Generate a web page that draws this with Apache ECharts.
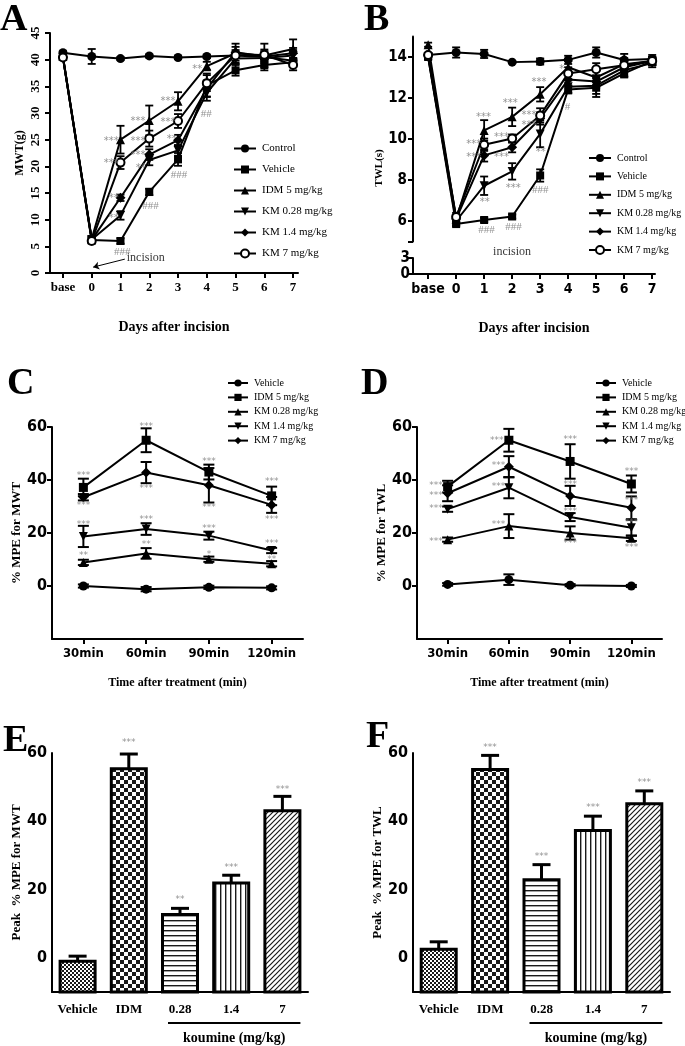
<!DOCTYPE html>
<html><head><meta charset="utf-8">
<script src="https://cdn.jsdelivr.net/npm/echarts@6/dist/echarts.min.js"></script>
<style>html,body{margin:0;padding:0;background:#fff}#c{width:685px;height:1046px}</style>
</head><body><div id="c"></div>
<script>
// ---------- DATA ----------
const daysLabels = ['base','0','1','2','3','4','5','6','7'];
const dayX = [-1,0,1,2,3,4,5,6,7];
const groupsAB = ['Control','Vehicle','IDM 5 mg/kg','KM 0.28 mg/kg','KM 1.4 mg/kg','KM 7 mg/kg'];
// Panel A: MWT (g)
const mwtControl = [41.3, 40.6, 40.2, 40.7, 40.4, 40.6, 40.8, 40.5, 39.8];
const mwtVehicle = [40.5, 6.2, 6.0, 15.2, 21.3, 35.2, 38.0, 39.0, 39.5];
const mwtIDM     = [40.6, 6.4, 25.0, 28.6, 32.2, 38.8, 41.2, 40.8, 42.0];
const mwtKM028   = [40.4, 6.3, 10.8, 21.2, 23.0, 33.8, 40.2, 40.3, 40.8];
const mwtKM14    = [40.5, 6.2, 14.1, 22.2, 24.9, 34.6, 41.4, 40.6, 41.2];
const mwtKM7     = [40.4, 6.0, 20.7, 25.2, 28.5, 35.6, 40.8, 40.9, 39.0];
const mwtControlErr = [0.3, 1.4, 0.3, 0.3, 0.3, 0.3, 0.5, 0.5, 0.5];
const mwtVehicleErr = [0.3, 0.4, 0.5, 0.6, 1.2, 2.2, 1.0, 1.0, 0.8];
const mwtIDMErr     = [0.3, 0.5, 2.6, 2.8, 1.7, 0.8, 1.8, 2.2, 1.8];
const mwtKM028Err   = [0.3, 0.5, 0.8, 1.0, 1.0, 1.5, 1.0, 1.0, 1.0];
const mwtKM14Err    = [0.3, 0.5, 0.6, 1.0, 1.0, 1.5, 1.0, 1.0, 1.0];
const mwtKM7Err     = [0.3, 0.5, 1.2, 1.5, 1.3, 1.5, 1.0, 1.0, 1.0];
// Panel B: TWL (s)
const twlControl = [14.1, 14.22, 14.15, 13.75, 13.78, 13.86, 14.22, 13.85, 13.9];
const twlVehicle = [14.0, 5.85, 6.05, 6.22, 8.22, 12.42, 12.5, 13.2, 13.8];
const twlIDM     = [14.6, 6.1, 10.42, 11.08, 12.18, 13.5, 13.0, 13.65, 13.8];
const twlKM028   = [14.0, 6.0, 7.72, 8.42, 10.25, 12.55, 12.6, 13.35, 13.7];
const twlKM14    = [14.1, 6.1, 9.2, 9.6, 11.0, 12.9, 12.8, 13.5, 13.8];
const twlKM7     = [14.1, 6.2, 9.72, 10.02, 11.15, 13.2, 13.4, 13.6, 13.8];
const twlControlErr = [0.1, 0.25, 0.2, 0.05, 0.15, 0.2, 0.25, 0.3, 0.2];
const twlVehicleErr = [0.1, 0.1, 0.1, 0.1, 0.3, 0.2, 0.45, 0.2, 0.15];
const twlIDMErr     = [0.1, 0.2, 0.5, 0.45, 0.35, 0.3, 0.4, 0.3, 0.2];
const twlKM028Err   = [0.1, 0.2, 0.45, 0.4, 0.65, 0.3, 0.4, 0.3, 0.2];
const twlKM14Err    = [0.1, 0.2, 0.3, 0.25, 0.3, 0.3, 0.3, 0.2, 0.2];
const twlKM7Err     = [0.1, 0.2, 0.3, 0.2, 0.35, 0.3, 0.3, 0.2, 0.2];
// Panels C, D: %MPE over time
const timeLabels = ['30min','60min','90min','120min'];
const timeX = [0,1,2,3];
const groupsCD = ['Vehicle','IDM 5 mg/kg','KM 0.28 mg/kg','KM 1.4 mg/kg','KM 7 mg/kg'];
const mpeMwtVehicle = [0, -1.2, -0.5, -0.7];
const mpeMwtIDM     = [37.2, 55.0, 43.0, 34.0];
const mpeMwtKM028   = [8.9, 12.3, 10.1, 8.4];
const mpeMwtKM14    = [18.7, 21.5, 19.0, 13.4];
const mpeMwtKM7     = [33.5, 42.8, 38.0, 30.6];
const mpeMwtVehicleErr = [0.6, 0.8, 0.6, 0.6];
const mpeMwtIDMErr     = [3.3, 4.5, 2.8, 3.5];
const mpeMwtKM028Err   = [1.0, 2.0, 1.0, 1.0];
const mpeMwtKM14Err    = [4.0, 2.2, 1.5, 1.0];
const mpeMwtKM7Err     = [1.2, 4.0, 6.5, 3.0];
const mpeTwlVehicle = [0.6, 2.4, 0.3, 0];
const mpeTwlIDM     = [37.5, 55.0, 47.0, 38.5];
const mpeTwlKM028   = [17.5, 22.6, 20.0, 18.0];
const mpeTwlKM14    = [29.0, 37.1, 26.0, 22.0];
const mpeTwlKM7     = [35.0, 45.0, 34.0, 29.5];
const mpeTwlVehicleErr = [0.5, 2.0, 0.4, 0.4];
const mpeTwlIDMErr     = [2.2, 4.3, 6.5, 3.2];
const mpeTwlKM028Err   = [0.8, 4.5, 2.5, 1.0];
const mpeTwlKM14Err    = [1.0, 4.0, 1.5, 3.0];
const mpeTwlKM7Err     = [3.0, 4.0, 3.8, 4.3];
// Panels E, F: peak %MPE
const peakLabels = ['Vehicle','IDM','0.28','1.4','7'];
const peakMwt    = [-1.0, 55.4, 12.7, 21.9, 43.1];
const peakMwtErr = [1.5, 4.3, 1.8, 2.3, 4.2];
const peakTwl    = [2.5, 55.2, 22.9, 37.3, 45.1];
const peakTwlErr = [2.2, 4.1, 4.4, 4.2, 3.8];
// significance marks [x, y, text]
const annA = [[0.68,24.7,'***'],[0.68,20.6,'***'],[0.77,14.0,'**'],[0.77,10.3,'**'],[1.06,4.0,'###'],
  [1.61,28.4,'***'],[1.61,24.7,'***'],[1.61,22.0,'***'],[1.7,19.7,'**'],[2.04,12.5,'###'],
  [2.65,32.2,'***'],[2.65,28.3,'***'],[2.78,25.0,'**'],[3.03,18.4,'###'],[3.67,38.1,'**'],[3.98,29.7,'##']];
const annB = [[0.98,11.07,'***'],[0.63,9.74,'***'],[0.63,9.12,'***'],[1.02,6.93,'**'],[1.08,5.55,'###'],
  [1.93,11.72,'***'],[1.62,10.07,'***'],[1.62,9.12,'***'],[2.04,7.58,'***'],[2.05,5.7,'###'],
  [2.96,12.78,'***'],[2.6,11.15,'***'],[2.6,10.67,'***'],[3.02,9.37,'**'],[3.0,7.5,'###'],
  [3.77,13.4,'*'],[3.98,11.55,'#']];
const annC = [[0,41.8,'***'],[0,30.5,'***'],[0,23.2,'***'],[0,11.3,'**'],
  [1,60.2,'***'],[1,36.8,'***'],[1,25.1,'***'],[1,15.7,'**'],
  [2,46.8,'***'],[2,29.6,'***'],[2,21.6,'***'],[2,12.0,'*'],
  [3,39.3,'***'],[3,25.1,'***'],[3,16.1,'***'],[3,10.0,'**']];
const annD = [[-0.19,38.0,'***'],[-0.19,34.1,'***'],[-0.19,29.0,'***'],[-0.19,16.9,'***'],
  [0.8,55.0,'***'],[0.83,45.5,'***'],[0.83,37.6,'***'],[0.83,23.3,'***'],
  [2,55.2,'***'],[2,38.4,'***'],[2,28.2,'***'],[2,16.0,'***'],
  [3,43.0,'***'],[3,32.1,'***'],[3,23.8,'***'],[3,14.6,'***']];
const annE = [[1,63.0,'***'],[2,17.0,'**'],[3,26.3,'***'],[4,49.3,'***']];
const annF = [[1,61.6,'***'],[2,29.5,'***'],[3,43.9,'***'],[4,51.3,'***']];

// ---------- STYLE ----------
const SERIF = "'Liberation Serif','Times New Roman',serif";
const NARROW = "'Liberation Sans Narrow','DejaVu Sans Condensed','Liberation Sans',sans-serif";
const LS = {color:'#000', width:2};
const DOWN = 'path://M0,0L10,0L5,9Z';
const symAB = ['circle','rect','triangle',DOWN,'diamond','emptyCircle'];
const symCD = ['circle','rect','triangle',DOWN,'diamond'];
const PEAK_MIN = -10, PEAK_MAX = 60;

const chart = echarts.init(document.getElementById('c'), null, {renderer:'canvas', width:685, height:1046});

function xy(xs, ys){ return xs.map((x,i)=>[x, ys[i]]); }
function xye(xs, ys, es){ return xs.map((x,i)=>[x, ys[i], es[i]]); }

function lineS(id, name, ai, data, sym, size){
  return {type:'line', name:id+':'+name, xAxisIndex:ai, yAxisIndex:ai, data,
    symbol:sym, symbolSize:size, showSymbol:true, z:4, silent:true, animation:false,
    lineStyle:{color:'#000', width:2},
    itemStyle: sym==='emptyCircle' ? {color:'#000', borderColor:'#000', borderWidth:2.5} : {color:'#000'},
    emphasis:{disabled:true}};
}
function errS(ai, data, capW, lw, upOnly){
  return {type:'custom', xAxisIndex:ai, yAxisIndex:ai, data, z:3, silent:true, clip:false, animation:false,
    renderItem(params, api){
      const x=api.value(0), y=api.value(1), e=api.value(2);
      const t=api.coord([x,y+e]), b=api.coord(upOnly?[x,y]:[x,y-e]);
      const st={stroke:'#000', lineWidth:lw};
      const ch=[{type:'line',shape:{x1:t[0],y1:t[1],x2:b[0],y2:b[1]},style:st},
        {type:'line',shape:{x1:t[0]-capW/2,y1:t[1],x2:t[0]+capW/2,y2:t[1]},style:st}];
      if(!upOnly) ch.push({type:'line',shape:{x1:b[0]-capW/2,y1:b[1],x2:b[0]+capW/2,y2:b[1]},style:st});
      return {type:'group', children:ch};
    }};
}
function annS(ai, arr, fs){
  return {type:'scatter', xAxisIndex:ai, yAxisIndex:ai, symbolSize:1, silent:true, clip:false, z:6, animation:false,
    itemStyle:{color:'rgba(0,0,0,0)'},
    data: arr.map(a=>({value:[a[0],a[1]], label:{formatter:a[2], fontFamily: a[2].indexOf('#')>=0 ? SERIF : 'DejaVu Sans', fontSize: a[2].indexOf('#')>=0 ? 11 : (fs||10)}})),
    label:{show:true, position:'inside', color:'#777'}};
}
function axisCommon(extra){
  return Object.assign({axisLine:{show:true, onZero:false, lineStyle:LS}, splitLine:{show:false}}, extra);
}

// fill patterns for the bars
function makePattern(kind){
  const s = (kind==='checkBig') ? 8 : (kind==='checkSmall' ? 4 : 5);
  const c = document.createElement('canvas'); c.width = s; c.height = s;
  const g = c.getContext('2d');
  g.fillStyle = '#fff'; g.fillRect(0,0,s,s);
  g.fillStyle = '#1a1a1a'; g.strokeStyle = '#1a1a1a';
  if (kind==='checkSmall'){ g.fillRect(0,0,2,2); g.fillRect(2,2,2,2); }
  else if (kind==='checkBig'){ g.fillRect(0,0,4,4); g.fillRect(4,4,4,4); }
  else if (kind==='hor'){ g.fillRect(0,0,5,1.4); }
  else if (kind==='ver'){ g.fillRect(0,0,1.4,5); }
  else if (kind==='diag'){
    g.lineWidth = 1.2;
    g.beginPath(); g.moveTo(-1,6); g.lineTo(6,-1); g.moveTo(-1,1); g.lineTo(1,-1); g.moveTo(4,6); g.lineTo(6,4); g.stroke();
  }
  return c;
}
const barPatterns = ['checkSmall','checkBig','hor','ver','diag'].map(makePattern);

function barS(ai, vals){
  return {type:'custom', xAxisIndex:ai, yAxisIndex:ai, z:2, silent:true, animation:false, clip:false,
    data: vals.map((v,i)=>[i, v]),
    renderItem(params, api){
      const i = api.value(0), v = api.value(1);
      const top = api.coord([i, v]), base = api.coord([i, PEAK_MIN]);
      const w = 35;
      return {type:'rect', shape:{x:top[0]-w/2, y:top[1], width:w, height:base[1]-top[1]},
        style:{fill:{image:barPatterns[params.dataIndex], repeat:'repeat'}, stroke:'#000', lineWidth:3}};
    }};
}

const grids = [
  {left:50, top:33, width:248, height:240},
  {left:413, top:36.5, width:242, height:205},
  {left:413, top:258, width:242, height:16},
  {left:52, top:427, width:251, height:212},
  {left:417, top:427, width:245, height:212},
  {left:52, top:753, width:256, height:239},
  {left:413, top:753, width:257, height:239}
].map(g=>Object.assign({containLabel:false, outerBoundsMode:'none'}, g));

const tickS = {length:5, lineStyle:LS};
const nameSerif = (fs)=>({fontFamily:SERIF, fontWeight:'bold', fontSize:fs, color:'#000'});
const dayFmt = v => daysLabels[dayX.indexOf(v)];
const timeFmt = v => timeLabels[timeX.indexOf(v)];

const xAxes = [
  axisCommon({gridIndex:0, type:'value', min:-1.45, max:7.17,
    axisTick:Object.assign({customValues:dayX}, tickS),
    axisLabel:{customValues:dayX, formatter:dayFmt, fontFamily:SERIF, fontWeight:'bold', fontSize:13, color:'#000', margin:8},
    name:'Days after incision', nameLocation:'middle', nameGap:47, nameTextStyle:nameSerif(14)}),
  axisCommon({gridIndex:1, type:'value', min:-1.54, max:7.1, show:false}),
  axisCommon({gridIndex:2, type:'value', min:-1.54, max:7.1,
    axisTick:Object.assign({customValues:dayX}, tickS),
    axisLabel:{customValues:dayX, formatter:dayFmt, fontFamily:NARROW, fontWeight:'bold', fontSize:14, color:'#000', margin:8},
    name:'Days after incision', nameLocation:'middle', nameGap:47, nameTextStyle:nameSerif(14)}),
  axisCommon({gridIndex:3, type:'value', min:-0.5, max:3.5,
    axisTick:Object.assign({customValues:timeX}, tickS),
    axisLabel:{customValues:timeX, formatter:timeFmt, fontFamily:NARROW, fontWeight:'bold', fontSize:13, color:'#000', margin:8},
    name:'Time after treatment (min)', nameLocation:'middle', nameGap:38, nameTextStyle:nameSerif(12)}),
  axisCommon({gridIndex:4, type:'value', min:-0.5, max:3.5,
    axisTick:Object.assign({customValues:timeX}, tickS),
    axisLabel:{customValues:timeX, formatter:timeFmt, fontFamily:NARROW, fontWeight:'bold', fontSize:13, color:'#000', margin:8},
    name:'Time after treatment (min)', nameLocation:'middle', nameGap:38, nameTextStyle:nameSerif(12)}),
  axisCommon({gridIndex:5, type:'category', data:peakLabels,
    axisTick:Object.assign({alignWithLabel:true}, tickS),
    axisLabel:{interval:0, fontFamily:SERIF, fontWeight:'bold', fontSize:13, color:'#000', margin:11}}),
  axisCommon({gridIndex:6, type:'category', data:peakLabels,
    axisTick:Object.assign({alignWithLabel:true}, tickS),
    axisLabel:{interval:0, fontFamily:SERIF, fontWeight:'bold', fontSize:13, color:'#000', margin:11}})
];
const mpeTicks = [0,20,40,60];
const yAxes = [
  axisCommon({gridIndex:0, type:'value', min:0, max:45, interval:5, axisTick:tickS,
    axisLabel:{rotate:90, fontFamily:SERIF, fontWeight:'bold', fontSize:13, color:'#000', margin:8},
    name:'MWT(g)', nameLocation:'middle', nameGap:24, nameTextStyle:nameSerif(12)}),
  axisCommon({gridIndex:1, type:'value', min:5, max:15,
    axisTick:Object.assign({customValues:[5,6,8,10,12,14]}, tickS),
    axisLabel:{customValues:[6,8,10,12,14], fontFamily:NARROW, fontWeight:'bold', fontSize:15, color:'#000', margin:6},
    name:'TWL(s)', nameLocation:'middle', nameGap:23, nameTextStyle:Object.assign(nameSerif(11), {padding:[0,58,0,0]})}),
  axisCommon({gridIndex:2, type:'value', min:0, max:3,
    axisTick:Object.assign({customValues:[0,3]}, tickS),
    axisLabel:{customValues:[0,3], fontFamily:NARROW, fontWeight:'bold', fontSize:15, color:'#000', margin:3}}),
  axisCommon({gridIndex:3, type:'value', min:-20, max:60,
    axisTick:Object.assign({customValues:mpeTicks}, tickS),
    axisLabel:{customValues:mpeTicks, fontFamily:NARROW, fontWeight:'bold', fontSize:16, color:'#000', margin:5},
    name:'% MPE for MWT', nameLocation:'middle', nameGap:28, nameTextStyle:nameSerif(13)}),
  axisCommon({gridIndex:4, type:'value', min:-20, max:60,
    axisTick:Object.assign({customValues:mpeTicks}, tickS),
    axisLabel:{customValues:mpeTicks, fontFamily:NARROW, fontWeight:'bold', fontSize:16, color:'#000', margin:5},
    name:'% MPE for TWL', nameLocation:'middle', nameGap:28, nameTextStyle:nameSerif(13)}),
  axisCommon({gridIndex:5, type:'value', min:PEAK_MIN, max:PEAK_MAX,
    axisTick:Object.assign({customValues:mpeTicks}, tickS),
    axisLabel:{customValues:mpeTicks, fontFamily:NARROW, fontWeight:'bold', fontSize:16, color:'#000', margin:5},
    name:'Peak  % MPE for MWT', nameLocation:'middle', nameGap:28, nameTextStyle:nameSerif(13)}),
  axisCommon({gridIndex:6, type:'value', min:PEAK_MIN, max:PEAK_MAX,
    axisTick:Object.assign({customValues:mpeTicks}, tickS),
    axisLabel:{customValues:mpeTicks, fontFamily:NARROW, fontWeight:'bold', fontSize:16, color:'#000', margin:5},
    name:'Peak  % MPE for TWL', nameLocation:'middle', nameGap:26, nameTextStyle:nameSerif(13)})
];

const series = [];
// Panel A
const aMeans = [mwtControl, mwtVehicle, mwtIDM, mwtKM028, mwtKM14, mwtKM7];
const aErrs = [mwtControlErr, mwtVehicleErr, mwtIDMErr, mwtKM028Err, mwtKM14Err, mwtKM7Err];
const symSizeAB = [9,8,9,9,10,8];
groupsAB.forEach((g,i)=>{
  series.push(errS(0, xye(dayX, aMeans[i], aErrs[i]), 8, 1.8, false));
  series.push(lineS('A', g, 0, xy(dayX, aMeans[i]), symAB[i], symSizeAB[i]));
});
series.push(annS(0, annA));
series.push({type:'scatter', xAxisIndex:0, yAxisIndex:0, symbolSize:1, clip:false, silent:true, itemStyle:{color:'rgba(0,0,0,0)'},
  data:[{value:[1.2,2.9], label:{show:true, position:'right', distance:0, formatter:'incision', fontFamily:SERIF, fontSize:12, color:'#000'}}],
  markLine:{silent:true, symbol:['none','arrow'], symbolSize:6, label:{show:false}, lineStyle:{color:'#000', width:1, type:'solid'},
    data:[[{coord:[1.15,2.6]},{coord:[0.05,1.1]}]]}});
// Panel B
const bMeans = [twlControl, twlVehicle, twlIDM, twlKM028, twlKM14, twlKM7];
const bErrs = [twlControlErr, twlVehicleErr, twlIDMErr, twlKM028Err, twlKM14Err, twlKM7Err];
groupsAB.forEach((g,i)=>{
  series.push(errS(1, xye(dayX, bMeans[i], bErrs[i]), 8, 1.8, false));
  series.push(lineS('B', g, 1, xy(dayX, bMeans[i]), symAB[i], symSizeAB[i]));
});
series.push(annS(1, annB));
series.push({type:'scatter', xAxisIndex:2, yAxisIndex:2, symbolSize:1, clip:false, silent:true, itemStyle:{color:'rgba(0,0,0,0)'},
  data:[{value:[1.3,4.1], label:{show:true, position:'right', distance:0, formatter:'incision', fontFamily:SERIF, fontSize:12, color:'#000'}}],
  markLine:{silent:true, symbol:['none','arrow'], symbolSize:6, label:{show:false}, lineStyle:{color:'#000', width:1, type:'solid'},
    data:[[{coord:[1.23,3.56]},{coord:[-0.05,0.75]}]]}});
// Panels C, D
const cMeans = [mpeMwtVehicle, mpeMwtIDM, mpeMwtKM028, mpeMwtKM14, mpeMwtKM7];
const cErrs = [mpeMwtVehicleErr, mpeMwtIDMErr, mpeMwtKM028Err, mpeMwtKM14Err, mpeMwtKM7Err];
const dMeans = [mpeTwlVehicle, mpeTwlIDM, mpeTwlKM028, mpeTwlKM14, mpeTwlKM7];
const dErrs = [mpeTwlVehicleErr, mpeTwlIDMErr, mpeTwlKM028Err, mpeTwlKM14Err, mpeTwlKM7Err];
const symSizeCD = [9,9,9,9,10];
groupsCD.forEach((g,i)=>{
  series.push(errS(3, xye(timeX, cMeans[i], cErrs[i]), 11, 2, false));
  series.push(lineS('C', g, 3, xy(timeX, cMeans[i]), symCD[i], symSizeCD[i]));
  series.push(errS(4, xye(timeX, dMeans[i], dErrs[i]), 11, 2, false));
  series.push(lineS('D', g, 4, xy(timeX, dMeans[i]), symCD[i], symSizeCD[i]));
});
series.push(annS(3, annC, 9));
series.push(annS(4, annD, 9));
// Panels E, F
series.push(barS(5, peakMwt));
series.push(errS(5, peakMwt.map((v,i)=>[i, v, peakMwtErr[i]]), 18, 3, true));
series.push(annS(5, annE, 9));
series.push(barS(6, peakTwl));
series.push(errS(6, peakTwl.map((v,i)=>[i, v, peakTwlErr[i]]), 18, 3, true));
series.push(annS(6, annF, 9));

function legendFor(id, names, left, top, iw, ih, gap, fs){
  return {orient:'vertical', left, top, itemWidth:iw, itemHeight:ih, itemGap:gap, selectedMode:false, padding:0,
    data: names.map(n=>id+':'+n), formatter: n=>n.slice(2),
    textStyle:{fontFamily:SERIF, fontSize:fs, color:'#000', padding:[0,0,0,1]}};
}
const titleStyle = {fontFamily:SERIF, fontWeight:'bold', fontSize:38, color:'#000'};
const option = {
  animation:false,
  backgroundColor:'#fff',
  title:[
    {text:'A', left:0, top:1, padding:0, textStyle:titleStyle},
    {text:'B', left:364, top:1, padding:0, textStyle:titleStyle},
    {text:'C', left:7, top:365, padding:0, textStyle:titleStyle},
    {text:'D', left:361, top:365, padding:0, textStyle:titleStyle},
    {text:'E', left:3, top:722, padding:0, textStyle:titleStyle},
    {text:'F', left:366, top:718, padding:0, textStyle:titleStyle}
  ],
  legend:[
    legendFor('A', groupsAB, 233, 143, 22, 10, 10, 11),
    legendFor('B', groupsAB, 588, 153, 22, 10, 8.4, 10),
    legendFor('C', groupsCD, 227, 378, 20, 9, 4.4, 10),
    legendFor('D', groupsCD, 595, 378, 20, 9, 4.4, 10)
  ],
  grid: grids,
  xAxis: xAxes,
  yAxis: yAxes,
  series
};
chart.setOption(option);

function koumine(ai){
  const x1 = chart.convertToPixel({xAxisIndex:ai}, '0.28');
  const x2 = chart.convertToPixel({xAxisIndex:ai}, '7');
  const yb = chart.convertToPixel({yAxisIndex:ai}, PEAK_MIN);
  return [
    {type:'line', shape:{x1:x1-12, y1:yb+31, x2:x2+18, y2:yb+31}, style:{stroke:'#000', lineWidth:2}},
    {type:'text', x:(x1+x2)/2+3, y:yb+46, style:{text:'koumine (mg/kg)', fill:'#000', font:"bold 14px 'Liberation Serif'", textAlign:'center', textVerticalAlign:'middle'}}
  ];
}
chart.setOption({graphic: koumine(5).concat(koumine(6))});
</script></body></html>
